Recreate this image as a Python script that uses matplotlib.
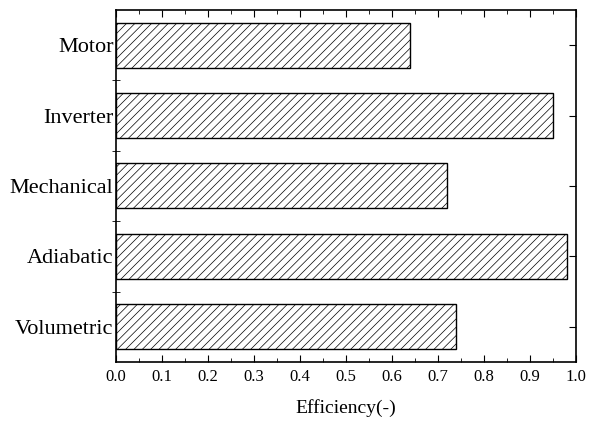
import matplotlib.pyplot as plt
import numpy as np

# efficiencies, top to bottom
categories = ["Motor", "Inverter", "Mechanical", "Adiabatic", "Volumetric"]
efficiency = [0.64, 0.95, 0.72, 0.98, 0.74]
xticks = [0.0, 0.1, 0.2, 0.3, 0.4, 0.5, 0.6, 0.7, 0.8, 0.9, 1.0]

plt.rcParams['font.family'] = ['Liberation Serif', 'DejaVu Serif']
plt.rcParams['hatch.linewidth'] = 0.5
plt.rcParams['hatch.color'] = '#555555'


def main():
    fig = plt.figure(figsize=(5.9, 4.34), dpi=100)
    ax = fig.add_axes([0.197, 0.166, 0.779, 0.811])

    y = np.arange(len(categories))
    ax.barh(y, efficiency, height=0.64, color='white', edgecolor='black',
            linewidth=1.0, hatch='////')

    ax.set_ylim(len(categories) - 0.5, -0.5)
    ax.set_xlim(0, 1.0)

    ax.set_xticks(xticks)
    ax.set_xticklabels(["%.1f" % v for v in xticks], fontsize=12)
    ax.set_xticks(np.arange(0.05, 1.0, 0.1), minor=True)
    ax.set_yticks(y)
    ax.set_yticklabels(categories, fontsize=16)
    ax.set_yticks(np.arange(0.5, len(categories) - 1, 1.0), minor=True)

    ax.tick_params(axis='x', which='both', direction='in', top=True, pad=5)
    ax.tick_params(axis='x', which='major', length=5)
    ax.tick_params(axis='x', which='minor', length=3)
    ax.tick_params(axis='y', which='major', direction='in', left=False, right=True, length=5, pad=2)
    ax.tick_params(axis='y', which='minor', direction='inout', left=True, length=6)

    for s in ax.spines.values():
        s.set_linewidth(1.2)

    ax.set_xlabel("Efficiency(-)", fontsize=14, labelpad=10)

    fig.savefig("out.png", dpi=100)


if __name__ == "__main__":
    main()
